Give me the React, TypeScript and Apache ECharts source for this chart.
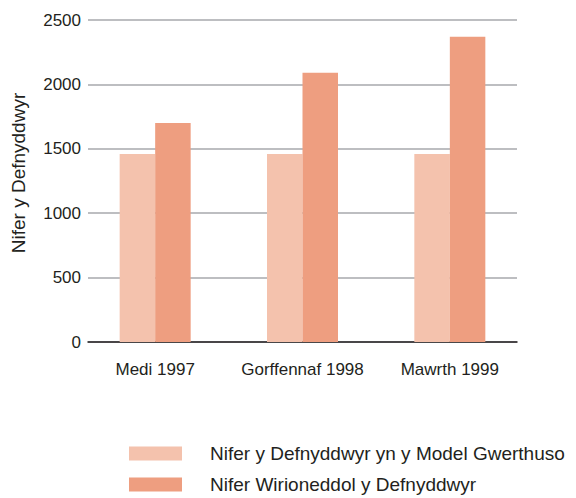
import React, { useEffect, useRef } from "react";
import * as echarts from "echarts";

const categories = ["Medi 1997", "Gorffennaf 1998", "Mawrth 1999"];
const seriesNames = [
  "Nifer y Defnyddwyr yn y Model Gwerthuso",
  "Nifer Wirioneddol y Defnyddwyr",
];
const modelValues = [1460, 1460, 1460];
const actualValues = [1700, 2090, 2370];
const yAxisTitle = "Nifer y Defnyddwyr";
const colors = ["#f4c2ad", "#ee9e80"];

const FONT = "'Liberation Sans', Arial, sans-serif";
const TEXT = "#231f20";

export default function App() {
  const ref = useRef<HTMLDivElement>(null);
  useEffect(() => {
    if (!ref.current) return;
    const chart = echarts.init(ref.current, undefined, { renderer: "svg" });
    const legendBase = {
      orient: "horizontal",
      left: 129,
      padding: 0,
      itemWidth: 53,
      itemHeight: 14,
      icon: "rect",
      textStyle: {
        fontFamily: FONT,
        fontSize: 19,
        lineHeight: 20,
        color: TEXT,
        padding: [0, 0, 0, 23],
      },
    };
    chart.setOption({
      animation: false,
      backgroundColor: "#ffffff",
      textStyle: { fontFamily: FONT, color: TEXT },
      color: colors,
      grid: [
        { left: 88, right: 59, top: 20, bottom: 156 },
        { left: 81.5, right: 52.5, top: 20, bottom: 156 },
      ],
      xAxis: [
        {
          type: "category",
          gridIndex: 0,
          data: categories,
          axisLine: { show: true, lineStyle: { color: "#231f20", width: 1.5 } },
          axisTick: { show: false },
          axisLabel: { show: false },
        },
        {
          type: "category",
          gridIndex: 1,
          data: categories,
          axisLine: { show: false },
          axisTick: { show: false },
          axisLabel: {
            interval: 0,
            fontFamily: FONT,
            fontSize: 17,
            color: TEXT,
            margin: 19,
          },
        },
      ],
      yAxis: [
        {
          type: "value",
          gridIndex: 0,
          min: 0,
          max: 2500,
          interval: 500,
          axisLine: { show: false },
          axisTick: { show: false },
          axisLabel: {
            fontFamily: FONT,
            fontSize: 17,
            color: TEXT,
            margin: 7,
            formatter: (v: number) => String(v),
          },
          splitLine: { lineStyle: { color: "#a7a9ac", width: 1.5 } },
        },
        {
          type: "value",
          gridIndex: 1,
          min: 0,
          max: 2500,
          interval: 500,
          show: false,
          splitLine: { show: false },
        },
      ],
      legend: [
        { ...legendBase, top: 443.5, data: [seriesNames[0]] },
        { ...legendBase, top: 474.5, data: [seriesNames[1]] },
      ],
      graphic: [
        {
          type: "text",
          x: 18,
          y: 173,
          rotation: Math.PI / 2,
          style: {
            text: yAxisTitle,
            fontFamily: FONT,
            fontSize: 19,
            fill: TEXT,
            align: "center",
            verticalAlign: "middle",
          },
        },
      ],
      series: [
        {
          name: seriesNames[0],
          type: "bar",
          xAxisIndex: 1,
          yAxisIndex: 1,
          data: modelValues,
          barWidth: 35.5,
          barGap: "0%",
          itemStyle: { color: colors[0] },
        },
        {
          name: seriesNames[1],
          type: "bar",
          xAxisIndex: 1,
          yAxisIndex: 1,
          data: actualValues,
          barWidth: 35.5,
          barGap: "0%",
          itemStyle: { color: colors[1] },
        },
      ],
    });
    return () => chart.dispose();
  }, []);
  return (
    <div
      ref={ref}
      style={{ position: "absolute", left: 0, top: 0, width: 576, height: 498 }}
    />
  );
}
